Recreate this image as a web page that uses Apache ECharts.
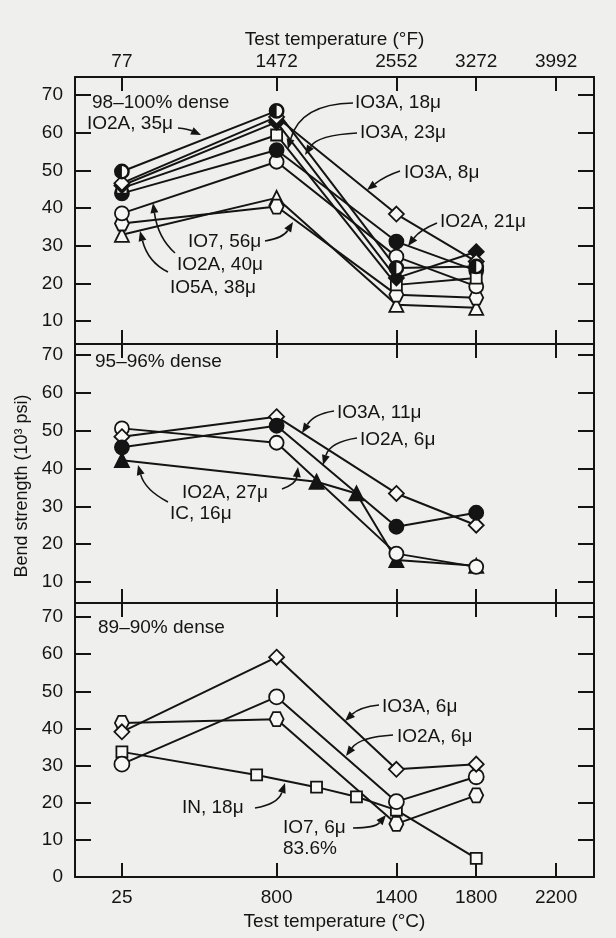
<!DOCTYPE html>
<html><head><meta charset="utf-8">
<script src="https://cdn.jsdelivr.net/npm/echarts@6/dist/echarts.min.js"></script>
<style>html,body{margin:0;padding:0;background:#efefed;}#c{width:616px;height:938px;}</style>
</head><body><div id="c"></div>
<script>
// ---- data (°C test temperature, bend strength in 10^3 psi) ----
const tempC = [25, 800, 1400, 1800];
const tickC = [25, 800, 1400, 1800, 2200];
const yTicks = [10, 20, 30, 40, 50, 60, 70];
const yTicksBottom = [0, 10, 20, 30, 40, 50, 60, 70];

// Panel 1: 98–100% dense
const p1_IO2A_35 = [49.7, 65.8, 24.1, 24.5];
const p1_IO3A_18 = [46.0, 62.8, 21.4, 28.4];
const p1_IO3A_23 = [45.3, 59.4, 19.6, 21.4];
const p1_IO3A_8  = [46.6, 64.2, 38.4, 25.8];
const p1_IO2A_21 = [43.9, 55.4, 31.1, 23.4];
const p1_IO2A_40 = [38.6, 52.3, 27.1, 19.2];
const p1_IO7_56  = [35.9, 40.4, 17.0, 16.2];
const p1_IO5A_38 = [32.9, 42.7, 14.3, 13.5];

// Panel 2: 95–96% dense
const p2_IO3A_11 = [48.4, 53.7, 33.4, 25.0];
const p2_IO2A_6  = [45.6, 51.3, 24.6, 28.3];
const p2_IO2A_27 = [50.6, 46.8, 17.5, 14.0];
const p2_IC_16_temp = [25, 1000, 1200, 1400, 1800];
const p2_IC_16   = [42.2, 36.5, 33.4, 15.8, 14.3];

// Panel 3: 89–90% dense
const p3_IO3A_6 = [39.1, 59.2, 29.0, 30.4];
const p3_IO2A_6 = [30.4, 48.5, 20.3, 27.0];
const p3_IO7_6  = [41.5, 42.5, 14.3, 22.0];
const p3_IN_18_temp = [25, 700, 1000, 1200, 1400, 1800];
const p3_IN_18  = [33.7, 27.5, 24.2, 21.6, 18.0, 5.0];

// ---- styling ----
const INK = '#141414';
const WHITE = '#f7f7f5';
const FONT = '"Liberation Sans", Arial, sans-serif';
const HEX = 'path://M25,0 L75,0 L100,50 L75,100 L25,100 L0,50 Z';
const HALF = 'path://M50,0 A50,50 0 0 0 50,100 Z M50,0 A50,50 0 0 1 50,100 L50,89 A39,39 0 0 0 50,11 Z';

const gridTops = [77, 344, 603];
const gridHeights = [267, 259, 274];
const yRanges = [[3.9, 74.8], [4.45, 72.9], [0, 73.8]];
const xMin = -210, xMax = 2390;

const grids = gridTops.map((t, i) => ({left: 75, right: 22, top: t, height: gridHeights[i]}));
const axisLine = {show: true, onZero: false, lineStyle: {color: INK, width: 2}};
const xAxes = [], yAxes = [];
for (let g = 0; g < 3; g++) {
  xAxes.push({
    gridIndex: g, type: 'value', min: xMin, max: xMax, position: 'bottom',
    axisLine, splitLine: {show: false},
    axisTick: {show: true, inside: true, length: 14, customValues: tickC, lineStyle: {color: INK, width: 2}},
    axisLabel: {show: g === 2, customValues: tickC, margin: 11, fontSize: 19, fontFamily: FONT, color: INK,
      formatter: v => String(v)},
    name: g === 2 ? 'Test temperature (°C)' : '', nameLocation: 'middle', nameGap: 35,
    nameTextStyle: {fontSize: 19, fontFamily: FONT, color: INK}
  });
  xAxes.push({
    gridIndex: g, type: 'value', min: xMin, max: xMax, position: 'top',
    axisLine, splitLine: {show: false},
    axisTick: {show: true, inside: true, length: 14, customValues: tickC, lineStyle: {color: INK, width: 2}},
    axisLabel: {show: g === 0, customValues: tickC, margin: 6, fontSize: 19, fontFamily: FONT, color: INK,
      formatter: v => String(Math.round(v * 9 / 5 + 32))},
    name: g === 0 ? 'Test temperature (°F)' : '', nameLocation: 'middle', nameGap: 28,
    nameTextStyle: {fontSize: 19, fontFamily: FONT, color: INK}
  });
  const labs = g === 2 ? yTicksBottom : yTicks;
  yAxes.push({
    gridIndex: g, type: 'value', min: yRanges[g][0], max: yRanges[g][1], position: 'left',
    axisLine, splitLine: {show: false},
    axisTick: {show: true, inside: true, length: 16, customValues: yTicks, lineStyle: {color: INK, width: 2}},
    axisLabel: {show: true, customValues: labs, margin: 12, fontSize: 19, fontFamily: FONT, color: INK,
      formatter: v => String(v)}
  });
  yAxes.push({
    gridIndex: g, type: 'value', min: yRanges[g][0], max: yRanges[g][1], position: 'right',
    axisLine, splitLine: {show: false},
    axisTick: {show: true, inside: true, length: 16, customValues: yTicks, lineStyle: {color: INK, width: 2}},
    axisLabel: {show: false}
  });
}

const series = [];
function addSeries(g, xs, ys, symbol, fill, size, overlay) {
  const data = xs.map((x, i) => [x, ys[i]]);
  series.push({type: 'line', xAxisIndex: g * 2, yAxisIndex: g * 2, data, symbol: 'none',
    lineStyle: {color: INK, width: 2}, z: 2, silent: true});
  series.push({type: 'scatter', xAxisIndex: g * 2, yAxisIndex: g * 2, data, symbol, symbolSize: size,
    itemStyle: {color: fill, borderColor: INK, borderWidth: 1.8, opacity: 1}, z: 3, silent: true});
  if (overlay) {
    series.push({type: 'scatter', xAxisIndex: g * 2, yAxisIndex: g * 2, data, symbol: overlay, symbolSize: size,
      itemStyle: {color: INK, borderWidth: 0, opacity: 1}, z: 4, silent: true});
  }
}
// panel 1
addSeries(0, tempC, p1_IO5A_38, 'triangle', WHITE, 14);
addSeries(0, tempC, p1_IO7_56, HEX, WHITE, 14);
addSeries(0, tempC, p1_IO2A_40, 'circle', WHITE, 14);
addSeries(0, tempC, p1_IO2A_21, 'circle', INK, 14);
addSeries(0, tempC, p1_IO3A_23, 'rect', WHITE, 11);
addSeries(0, tempC, p1_IO3A_18, 'diamond', INK, 15);
addSeries(0, tempC, p1_IO3A_8, 'diamond', WHITE, 15);
addSeries(0, tempC, p1_IO2A_35, 'circle', WHITE, 14, HALF);
// panel 2
addSeries(1, p2_IC_16_temp, p2_IC_16, 'triangle', INK, 14);
addSeries(1, tempC, p2_IO2A_27, 'circle', WHITE, 14);
addSeries(1, tempC, p2_IO3A_11, 'diamond', WHITE, 15);
addSeries(1, tempC, p2_IO2A_6, 'circle', INK, 14);
// panel 3
addSeries(2, p3_IN_18_temp, p3_IN_18, 'rect', WHITE, 11);
addSeries(2, tempC, p3_IO7_6, HEX, WHITE, 14);
addSeries(2, tempC, p3_IO2A_6, 'circle', WHITE, 15);
addSeries(2, tempC, p3_IO3A_6, 'diamond', WHITE, 15);

// ---- annotations ----
function txt(t, x, y) {
  return {type: 'text', z: 10, silent: true,
    style: {text: t, x, y, font: '19px ' + FONT, fill: INK, align: 'left', verticalAlign: 'middle'}};
}
function arrow(x1, y1, cx, cy, x2, y2) {
  const dx = x2 - cx, dy = y2 - cy, L = Math.hypot(dx, dy), ux = dx / L, uy = dy / L;
  const hl = 10, hw = 4, bx = x2 - ux * hl, by = y2 - uy * hl;
  return [
    {type: 'bezierCurve', z: 10, silent: true, shape: {x1, y1, x2: bx, y2: by, cpx1: cx, cpy1: cy},
      style: {stroke: INK, lineWidth: 1.6, fill: null}},
    {type: 'polygon', z: 10, silent: true,
      shape: {points: [[x2, y2], [bx - uy * hw, by + ux * hw], [bx + uy * hw, by - ux * hw]]},
      style: {fill: INK}}
  ];
}
const graphic = [
  {type: 'text', z: 10, silent: true, x: 22, y: 486, rotation: Math.PI / 2,
    style: {text: 'Bend strength (10³ psi)', x: 0, y: 0, font: '18px ' + FONT, fill: INK,
      align: 'center', verticalAlign: 'middle'}},
  txt('98–100% dense', 92, 103),
  txt('IO2A, 35μ', 87, 124), ...arrow(178, 128, 188, 129, 201, 135),
  txt('IO3A, 18μ', 355, 103), ...arrow(353, 103, 300, 104, 288, 149),
  txt('IO3A, 23μ', 360, 133), ...arrow(357, 133, 318, 135, 305, 155),
  txt('IO3A, 8μ', 404, 173), ...arrow(400, 171, 385, 176, 367, 190),
  txt('IO2A, 21μ', 440, 222), ...arrow(437, 223, 420, 230, 408, 246),
  txt('IO7, 56μ', 188, 242), ...arrow(265, 241, 283, 238, 293, 222),
  txt('IO2A, 40μ', 177, 265), ...arrow(175, 253, 158, 238, 153, 203),
  txt('IO5A, 38μ', 170, 288), ...arrow(168, 272, 148, 262, 140, 231),

  txt('95–96% dense', 95, 362),
  txt('IO3A, 11μ', 337, 413), ...arrow(334, 411, 314, 414, 302, 433),
  txt('IO2A, 6μ', 360, 440), ...arrow(357, 438, 330, 442, 323, 465),
  txt('IO2A, 27μ', 182, 493), ...arrow(282, 489, 296, 484, 298, 467),
  txt('IC, 16μ', 170, 514), ...arrow(168, 502, 145, 490, 138, 465),

  txt('89–90% dense', 98, 628),
  txt('IO3A, 6μ', 382, 707), ...arrow(379, 705, 360, 707, 345, 721),
  txt('IO2A, 6μ', 397, 737), ...arrow(393, 735, 360, 737, 346, 756),
  txt('IN, 18μ', 182, 808), ...arrow(255, 808, 278, 804, 285, 783),
  txt('IO7, 6μ', 283, 828), txt('83.6%', 283, 849), ...arrow(353, 828, 375, 828, 386, 815)
];

const chart = echarts.init(document.getElementById('c'), null, {renderer: 'canvas'});
chart.setOption({
  backgroundColor: '#efefed',
  animation: false,
  textStyle: {fontFamily: FONT},
  grid: grids, xAxis: xAxes, yAxis: yAxes, series, graphic
});
</script></body></html>
